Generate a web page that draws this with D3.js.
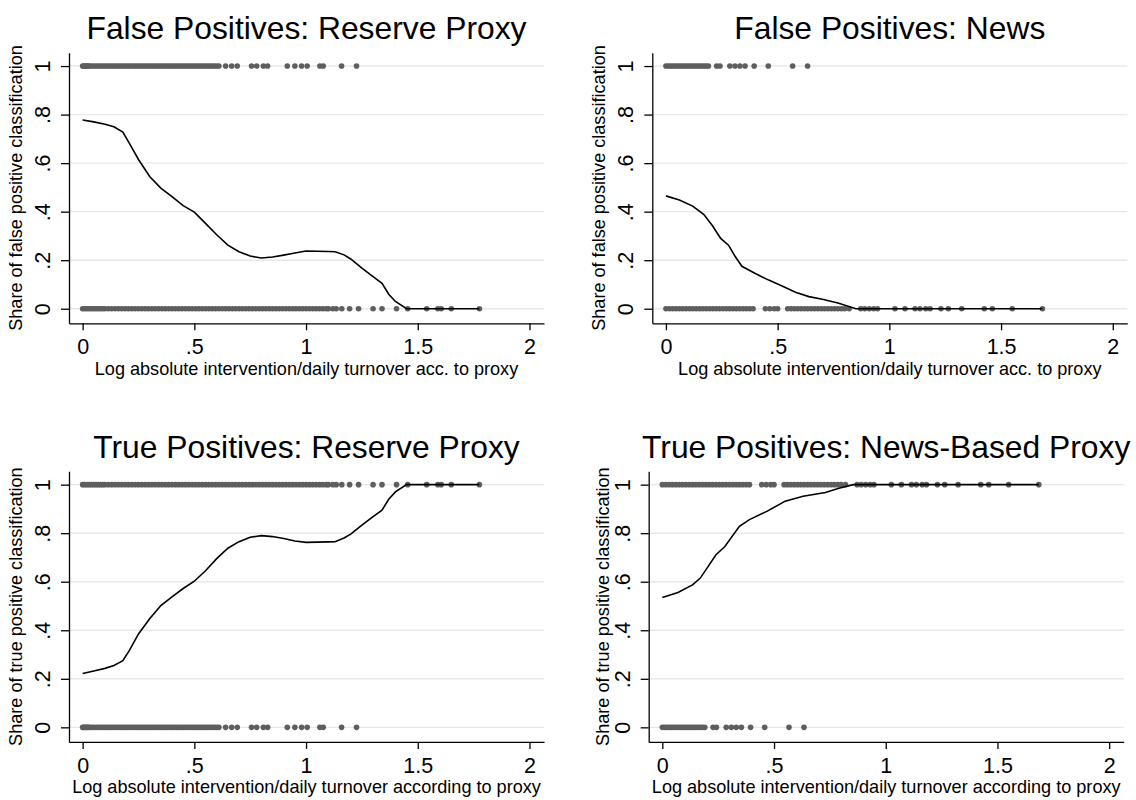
<!DOCTYPE html>
<html>
<head>
<meta charset="utf-8">
<script src="https://cdn.jsdelivr.net/npm/d3@7/dist/d3.min.js"></script>
<style>
  body { margin: 0; background: #fff; }
  svg { display: block; font-family: "Liberation Sans", Arial, sans-serif; }
</style>
</head>
<body>
<script>
var w = 1136;
var h = 800;

// tick labels (Stata style, no leading zero)
var xTicks = [0, 0.5, 1, 1.5, 2];
var xTickLabels = ["0", ".5", "1", "1.5", "2"];
var yTicks = [0, 0.2, 0.4, 0.6, 0.8, 1];
var yTickLabels = ["0", ".2", ".4", ".6", ".8", "1"];

// reserve proxy: x of days wrongly flagged (FP=1 / TP=0)
var reserveFalseX = [0,0.005,0.01,0.015,0.02,0.025,0.03,0.04,0.05,0.06,0.07,0.08,0.09,0.10,0.11,0.12,0.13,0.14,0.15,0.16,0.17,0.18,0.19,0.20,0.21,0.22,0.23,0.24,0.25,0.26,0.27,0.28,0.29,0.30,0.31,0.32,0.33,0.34,0.35,0.36,0.37,0.38,0.39,0.40,0.41,0.42,0.43,0.44,0.45,0.46,0.47,0.48,0.49,0.50,0.51,0.52,0.53,0.54,0.55,0.56,0.57,0.58,0.59,0.60,0.61,0.64,0.667,0.692,0.756,0.779,0.809,0.828,0.916,0.95,0.98,1.005,1.062,1.077,1.159,1.226];
// reserve proxy: x of days correctly flagged (FP=0 / TP=1)
var reserveTrueX = [0,0.01,0.02,0.03,0.04,0.05,0.06,0.07,0.08,0.09,0.10,0.115,0.13,0.145,0.16,0.175,0.19,0.205,0.22,0.235,0.25,0.265,0.28,0.295,0.31,0.325,0.34,0.355,0.37,0.385,0.40,0.415,0.43,0.445,0.46,0.475,0.49,0.505,0.52,0.535,0.55,0.565,0.58,0.595,0.61,0.625,0.64,0.655,0.67,0.685,0.70,0.715,0.73,0.745,0.76,0.775,0.79,0.805,0.82,0.835,0.85,0.865,0.88,0.895,0.91,0.925,0.94,0.955,0.97,0.985,1.00,1.015,1.03,1.045,1.06,1.075,1.09,1.10,1.12,1.135,1.16,1.195,1.235,1.30,1.34,1.405,1.455,1.54,1.59,1.605,1.65,1.776];
// news proxy
var newsFalseX = [0,0.01,0.02,0.03,0.04,0.05,0.06,0.07,0.08,0.09,0.10,0.11,0.12,0.13,0.14,0.15,0.16,0.17,0.18,0.19,0.227,0.242,0.286,0.309,0.331,0.354,0.395,0.458,0.567,0.634];
var newsTrueX = [0,0.015,0.03,0.045,0.06,0.075,0.09,0.105,0.12,0.135,0.15,0.165,0.18,0.195,0.21,0.225,0.24,0.255,0.27,0.285,0.30,0.315,0.33,0.345,0.36,0.375,0.39,0.445,0.465,0.485,0.50,0.545,0.56,0.575,0.59,0.605,0.62,0.635,0.65,0.665,0.68,0.695,0.71,0.725,0.74,0.755,0.77,0.785,0.80,0.82,0.872,0.89,0.91,0.93,0.947,1.025,1.07,1.115,1.137,1.163,1.182,1.231,1.264,1.324,1.425,1.461,1.55,1.685];

// lowess curves
var reserveCurveX = [0,0.05,0.10,0.14,0.18,0.21,0.25,0.30,0.35,0.40,0.45,0.50,0.55,0.60,0.65,0.70,0.75,0.80,0.85,0.90,0.95,1.00,1.05,1.10,1.13,1.17,1.20,1.25,1.30,1.34,1.37,1.40,1.45,1.60,1.776];
var reserveFPCurve = [0.778,0.770,0.760,0.750,0.728,0.680,0.615,0.545,0.497,0.462,0.425,0.398,0.352,0.305,0.262,0.235,0.217,0.209,0.213,0.221,0.230,0.238,0.237,0.236,0.235,0.222,0.205,0.167,0.132,0.105,0.060,0.030,0,0,0];
var reserveTPCurve = [0.222,0.232,0.243,0.255,0.275,0.318,0.385,0.447,0.502,0.538,0.572,0.602,0.645,0.695,0.738,0.765,0.783,0.790,0.786,0.778,0.768,0.762,0.763,0.764,0.765,0.780,0.796,0.833,0.868,0.895,0.940,0.970,1,1,1];
var newsFPCurveX = [0,0.06,0.12,0.17,0.21,0.245,0.28,0.31,0.34,0.40,0.46,0.51,0.58,0.64,0.70,0.77,0.85,1.0,1.685];
var newsFPCurve = [0.465,0.448,0.423,0.388,0.340,0.290,0.262,0.215,0.175,0.145,0.118,0.098,0.068,0.050,0.039,0.024,0,0,0];
var newsTPCurveX = [0,0.07,0.135,0.17,0.20,0.24,0.28,0.345,0.39,0.47,0.55,0.63,0.73,0.79,0.855,1.0,1.685];
var newsTPCurve = [0.535,0.556,0.587,0.615,0.656,0.711,0.745,0.828,0.856,0.891,0.932,0.952,0.968,0.985,1,1,1];

var panels = [
  {title: "False Positives: Reserve Proxy", ytitle: "Share of false positive classification",
   xtitle: "Log absolute intervention/daily turnover acc. to proxy",
   ones: reserveFalseX, zeros: reserveTrueX, cx: reserveCurveX, cy: reserveFPCurve,
   dx: 0, dy: 0, ytx: 22, ylx: 19},
  {title: "False Positives: News", ytitle: "Share of false positive classification",
   xtitle: "Log absolute intervention/daily turnover acc. to proxy",
   ones: newsFalseX, zeros: newsTrueX, cx: newsFPCurveX, cy: newsFPCurve,
   dx: 583.3, dy: 0, ytx: 22, ylx: 19},
  {title: "True Positives: Reserve Proxy", ytitle: "Share of true positive classification",
   xtitle: "Log absolute intervention/daily turnover according to proxy",
   ones: reserveTrueX, zeros: reserveFalseX, cx: reserveCurveX, cy: reserveTPCurve,
   dx: 0, dy: 418.6, ytx: 22, ylx: 19},
  {title: "True Positives: News-Based Proxy", ytitle: "Share of true positive classification",
   xtitle: "Log absolute intervention/daily turnover according to proxy",
   ones: newsTrueX, zeros: newsFalseX, cx: newsTPCurveX, cy: newsTPCurve,
   dx: 579.7, dy: 418.6, ytx: 29, ylx: 19}
];

var plotLeft = 69, plotRight = 544, plotTop = 52.7, plotBottom = 323.3;

var svg = d3.select("body").append("svg")
  .attr("width", w)
  .attr("height", h);

svg.append("rect").attr("width", w).attr("height", h).attr("fill", "#fff");

panels.forEach(function(p){
  var g = svg.append("g").attr("transform", "translate(" + p.dx + "," + p.dy + ")");

  var x = d3.scaleLinear().domain([-0.061, 2.065]).range([plotLeft, plotRight]);
  var y = d3.scaleLinear().domain([-0.06, 1.055]).range([plotBottom, plotTop]);

  // grid
  g.selectAll("line.grid")
    .data(yTicks).enter()
    .append("line")
    .attr("class", "grid")
    .attr("x1", plotLeft).attr("x2", plotRight)
    .attr("y1", function(d){ return y(d); })
    .attr("y2", function(d){ return y(d); })
    .attr("stroke", "#e8e8e8")
    .attr("stroke-width", 1.4);

  // dots
  var pts = p.ones.map(function(v){ return [v, 1]; })
    .concat(p.zeros.map(function(v){ return [v, 0]; }));
  g.selectAll("circle")
    .data(pts).enter()
    .append("circle")
    .attr("cx", function(d){ return x(d[0]); })
    .attr("cy", function(d){ return y(d[1]); })
    .attr("r", 2.8)
    .attr("fill", "#5e5e5e");

  // lowess line
  var line = d3.line()
    .x(function(d, i){ return x(p.cx[i]); })
    .y(function(d){ return y(d); });
  g.append("path")
    .datum(p.cy)
    .attr("d", line)
    .attr("fill", "none")
    .attr("stroke", "#000")
    .attr("stroke-width", 1.6);

  // axes
  var xa = g.append("g")
    .attr("transform", "translate(0," + plotBottom + ")")
    .call(d3.axisBottom(x).tickValues(xTicks).tickSize(7).tickSizeOuter(0)
      .tickFormat(function(d, i){ return xTickLabels[i]; }));
  xa.selectAll("text")
    .attr("y", 30.7).attr("dy", 0)
    .attr("font-size", "21.5px")
    .attr("font-family", "Liberation Sans, Arial, sans-serif")
    .attr("fill", "#000");

  var ya = g.append("g")
    .attr("transform", "translate(" + plotLeft + ",0)")
    .call(d3.axisLeft(y).tickValues(yTicks).tickSize(8).tickSizeOuter(0)
      .tickFormat(function(d, i){ return yTickLabels[i]; }));
  ya.selectAll("text")
    .attr("x", 0).attr("dy", 0)
    .attr("transform", "translate(" + (-p.ylx) + ",0) rotate(-90)")
    .attr("text-anchor", "middle")
    .attr("font-size", "21.5px")
    .attr("font-family", "Liberation Sans, Arial, sans-serif")
    .attr("fill", "#000");

  g.selectAll(".domain, .tick line").attr("stroke", "#000").attr("stroke-width", 1.3);

  // titles
  g.append("text")
    .attr("x", (plotLeft + plotRight) / 2)
    .attr("y", 39)
    .attr("text-anchor", "middle")
    .attr("font-size", "31.8px")
    .text(p.title);

  g.append("text")
    .attr("x", (plotLeft + plotRight) / 2)
    .attr("y", 374.5)
    .attr("text-anchor", "middle")
    .attr("font-size", "18.1px")
    .text(p.xtitle);

  g.append("text")
    .attr("transform", "translate(" + p.ytx + "," + ((plotTop + plotBottom) / 2) + ") rotate(-90)")
    .attr("text-anchor", "middle")
    .attr("font-size", "18.1px")
    .text(p.ytitle);
});
</script>
</body>
</html>
